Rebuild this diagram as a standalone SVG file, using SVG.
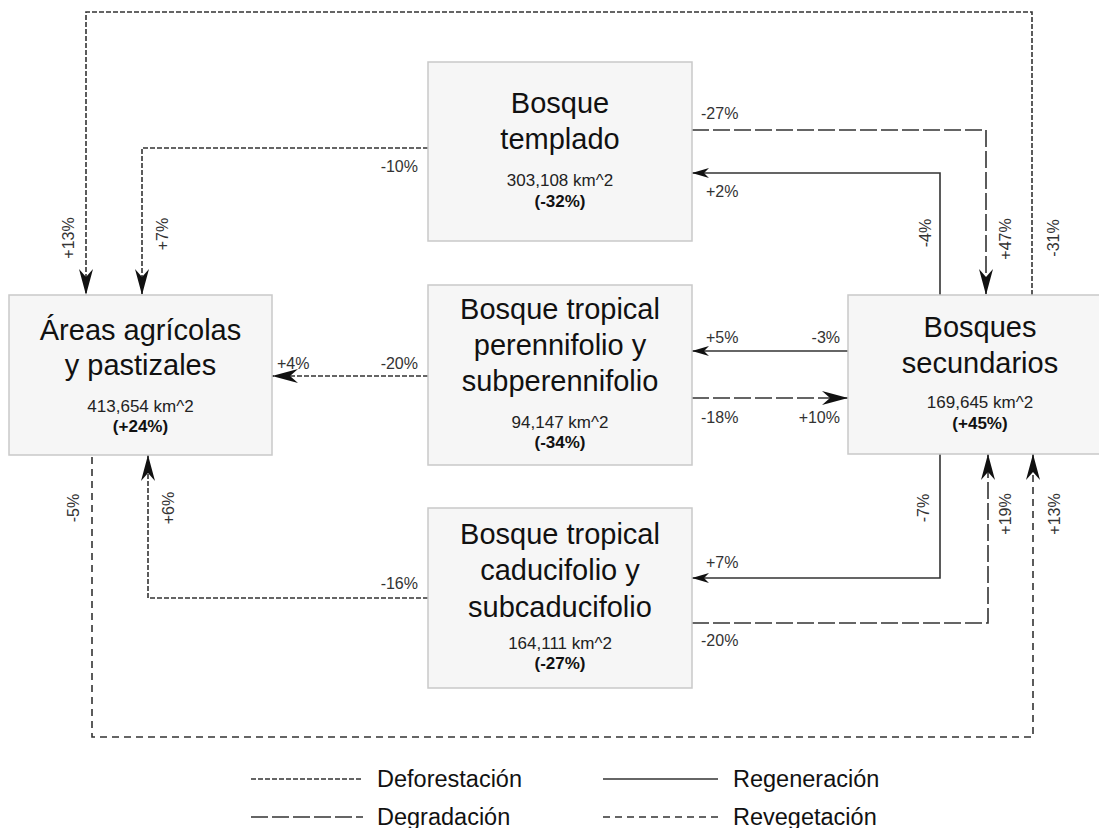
<svg xmlns="http://www.w3.org/2000/svg" width="1099" height="828" viewBox="0 0 1099 828">
<style>
  .box { fill: #f6f6f6; stroke: #c9c9c9; stroke-width: 1.5; }
  .title { font-family: "Liberation Sans", Arial, sans-serif; font-size: 29px; fill: #111; text-anchor: middle; }
  .area { font-family: "Liberation Sans", Arial, sans-serif; font-size: 17px; fill: #222; text-anchor: middle; }
  .pct { font-family: "Liberation Sans", Arial, sans-serif; font-size: 17px; font-weight: bold; fill: #111; text-anchor: middle; }
  .lbl { font-family: "Liberation Sans", Arial, sans-serif; font-size: 16px; fill: #333; }
  .end { text-anchor: end; }
  .mid { text-anchor: middle; }
  .leg { font-family: "Liberation Sans", Arial, sans-serif; font-size: 23.5px; fill: #111; }
  .c { fill: none; stroke: #333; stroke-width: 1.6; }
  .defo { stroke-dasharray: 5 2; }
  .degr { stroke-dasharray: 17 4; }
  .reve { stroke-dasharray: 7 5; }
</style>
<defs>
  <marker id="big" markerUnits="userSpaceOnUse" markerWidth="27" markerHeight="15" viewBox="0 -7.5 27 15" refX="26" refY="0" orient="auto">
    <path d="M0,-7 L26,0 L0,7 L8,0 Z" fill="#111"/>
  </marker>
  <marker id="small" markerUnits="userSpaceOnUse" markerWidth="18" markerHeight="11" viewBox="0 -5.5 18 11" refX="17" refY="0" orient="auto">
    <path d="M0,-5 L17,0 L0,5 L5,0 Z" fill="#111"/>
  </marker>
</defs>

<g id="connectors">
  <path class="c defo" d="M1032,295 V12 H86 V295" marker-end="url(#big)"/>
  <path class="c defo" d="M428,148 H142 V295" marker-end="url(#big)"/>
  <path class="c defo" d="M428,376 H272" marker-end="url(#big)"/>
  <path class="c defo" d="M428,598 H148 V455" marker-end="url(#big)"/>
  <path class="c reve" d="M92,457 V737 H1033 V454" marker-end="url(#big)"/>
  <path class="c degr" d="M692,130 H986 V295" marker-end="url(#big)"/>
  <path class="c" d="M940,295 V173 H692" marker-end="url(#small)"/>
  <path class="c" d="M848,351 H692" marker-end="url(#small)"/>
  <path class="c degr" d="M692,398 H848" marker-end="url(#big)"/>
  <path class="c" d="M940,454 V578 H692" marker-end="url(#small)"/>
  <path class="c degr" d="M692,623 H988 V454" marker-end="url(#big)"/>

  <text class="lbl end" x="418" y="172">-10%</text>
  <text class="lbl" x="701" y="119">-27%</text>
  <text class="lbl" x="706" y="197">+2%</text>
  <text class="lbl" x="277" y="369">+4%</text>
  <text class="lbl end" x="418" y="369">-20%</text>
  <text class="lbl" x="706" y="343">+5%</text>
  <text class="lbl end" x="840" y="343">-3%</text>
  <text class="lbl" x="701" y="423">-18%</text>
  <text class="lbl end" x="840" y="423">+10%</text>
  <text class="lbl end" x="418" y="589">-16%</text>
  <text class="lbl" x="706" y="568">+7%</text>
  <text class="lbl" x="701" y="646">-20%</text>

  <text class="lbl mid" transform="translate(74,238) rotate(-90)">+13%</text>
  <text class="lbl mid" transform="translate(168,234) rotate(-90)">+7%</text>
  <text class="lbl mid" transform="translate(931,233) rotate(-90)">-4%</text>
  <text class="lbl mid" transform="translate(1011,239) rotate(-90)">+47%</text>
  <text class="lbl mid" transform="translate(1059,238) rotate(-90)">-31%</text>
  <text class="lbl mid" transform="translate(79,508) rotate(-90)">-5%</text>
  <text class="lbl mid" transform="translate(174,508) rotate(-90)">+6%</text>
  <text class="lbl mid" transform="translate(929,508) rotate(-90)">-7%</text>
  <text class="lbl mid" transform="translate(1011,514) rotate(-90)">+19%</text>
  <text class="lbl mid" transform="translate(1060,514) rotate(-90)">+13%</text>
</g>

<g id="node-templado">
  <rect class="box" x="428" y="62" width="264" height="179"/>
  <text class="title" x="560" y="113">Bosque</text>
  <text class="title" x="560" y="149">templado</text>
  <text class="area" x="560" y="186">303,108 km^2</text>
  <text class="pct" x="560" y="207">(-32%)</text>
</g>

<g id="node-perennifolio">
  <rect class="box" x="428" y="285" width="264" height="180"/>
  <text class="title" x="560" y="319">Bosque tropical</text>
  <text class="title" x="560" y="355">perennifolio y</text>
  <text class="title" x="560" y="391">subperennifolio</text>
  <text class="area" x="560" y="428">94,147 km^2</text>
  <text class="pct" x="560" y="448">(-34%)</text>
</g>

<g id="node-caducifolio">
  <rect class="box" x="428" y="508" width="264" height="180"/>
  <text class="title" x="560" y="544">Bosque tropical</text>
  <text class="title" x="560" y="580">caducifolio y</text>
  <text class="title" x="560" y="617">subcaducifolio</text>
  <text class="area" x="560" y="649">164,111 km^2</text>
  <text class="pct" x="560" y="669">(-27%)</text>
</g>

<g id="node-areas">
  <rect class="box" x="9" y="295" width="263" height="160"/>
  <text class="title" x="140.5" y="340">Áreas agrícolas</text>
  <text class="title" x="140.5" y="375">y pastizales</text>
  <text class="area" x="140.5" y="412">413,654 km^2</text>
  <text class="pct" x="140.5" y="432">(+24%)</text>
</g>

<g id="node-secundarios">
  <rect class="box" x="848" y="295" width="263" height="159"/>
  <text class="title" x="980" y="337">Bosques</text>
  <text class="title" x="980" y="373">secundarios</text>
  <text class="area" x="980" y="408">169,645 km^2</text>
  <text class="pct" x="980" y="429">(+45%)</text>
</g>

<g id="legend">
  <line class="c defo" x1="251" y1="779" x2="363" y2="779"/>
  <text class="leg" x="377" y="787">Deforestación</text>
  <line class="c degr" x1="251" y1="817" x2="363" y2="817"/>
  <text class="leg" x="377" y="825">Degradación</text>
  <line class="c" x1="603" y1="779" x2="718" y2="779"/>
  <text class="leg" x="733" y="787">Regeneración</text>
  <line class="c reve" x1="603" y1="817" x2="718" y2="817"/>
  <text class="leg" x="733" y="825">Revegetación</text>
</g>
</svg>
